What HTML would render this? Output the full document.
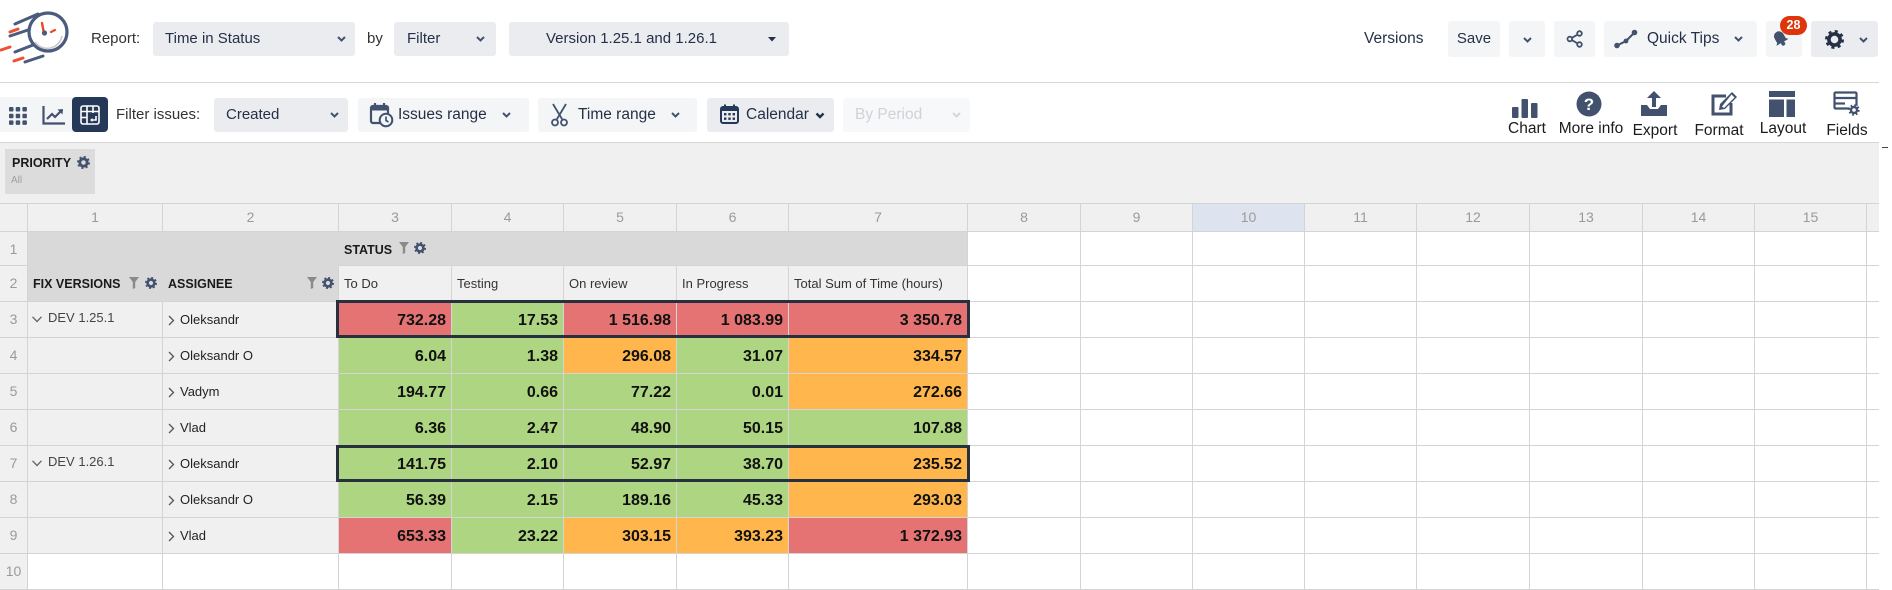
<!DOCTYPE html>
<html><head><meta charset="utf-8">
<style>
*{box-sizing:border-box;margin:0;padding:0}
body{width:1892px;height:590px;overflow:hidden;background:#fff;font-family:"Liberation Sans",Arial,sans-serif;position:relative}
.a{position:absolute}
.bx{position:absolute;border-radius:3px;background:#f4f5f7}
.dk{background:#ebecf0}
.t{position:absolute;font-size:15px;color:#253047;white-space:nowrap}
.lb{position:absolute;font-size:15.5px;color:#1b1b1b;white-space:nowrap;text-align:center;width:80px;height:20px;line-height:20px}
.g{position:absolute;left:0;top:203px;width:1879px;height:387px;display:grid;
grid-template-columns:27px 134px 175px 112px 111px 112px 111px 178px 112px 111px 111px 111px 112px 112px 111px 111px 12px;
grid-template-rows:27px 33px 35px repeat(8,35px);gap:1px;padding-top:1px;padding-bottom:1px;background:#d4d4d4}
.g>div{background:#fff;white-space:nowrap;overflow:hidden}
.h{background:#f0f0f0!important;color:#9a9a9a;font-size:14px;text-align:center;line-height:27px}
.hs{background:#dee4ef!important}
.n{background:#f0f0f0!important;color:#9a9a9a;font-size:14px;text-align:center;line-height:35px}
.l{background:#f0f0f0!important;font-size:13px;color:#222;line-height:35px;position:relative}
.s{background:#f0f0f0!important;font-size:13px;color:#333;line-height:35px;padding-left:5px}
.R,.G,.O{font-weight:bold;font-size:16px;color:#111;text-align:right;padding-right:5px;line-height:37px}
.R{background:#e57373!important}.G{background:#aed581!important}.O{background:#ffb74d!important}
.gr{background:#d9d9d9!important;position:relative}
</style></head><body>

<!-- logo -->
<svg class="a" style="left:0;top:0" width="72" height="70" viewBox="0 0 72 70">
<g stroke="#4a5b7d" stroke-width="3" stroke-linecap="round" fill="none">
<line x1="15" y1="24" x2="38" y2="14"/>
<line x1="10" y1="36" x2="31" y2="29"/>
<line x1="15" y1="52" x2="33" y2="45"/>
<line x1="25" y1="62" x2="43" y2="56"/>
</g>
<g stroke="#f0502f" stroke-width="3" stroke-linecap="round">
<line x1="1" y1="50" x2="10" y2="47"/>
<line x1="10" y1="32" x2="18" y2="29"/>
<line x1="14" y1="61" x2="23" y2="58"/>
</g>
<circle cx="48" cy="32" r="19" fill="#fff" stroke="#4a5b7d" stroke-width="3.2"/>
<path d="M35 42 A15 15 0 0 0 62 36" fill="none" stroke="#c8c8c8" stroke-width="1.6"/>
<line x1="42" y1="23" x2="43.5" y2="31" stroke="#e8492f" stroke-width="2.4" stroke-linecap="round"/>
<line x1="51" y1="32" x2="55" y2="30" stroke="#e8492f" stroke-width="2.2" stroke-linecap="round"/>
<circle cx="44.5" cy="33" r="2.6" fill="#4a5b7d"/>
</svg>

<!-- top row -->
<div class="t" style="left:91px;top:22px;line-height:34px;color:#333">Report:</div>
<div class="bx dk" style="left:153px;top:22px;width:202px;height:34px"></div>
<div class="t" style="left:165px;top:22px;line-height:34px">Time in Status</div>
<svg class="a" style="left:337px;top:36px" width="9" height="6"><polyline points="1,1 4.5,4.5 8,1" fill="none" stroke="#42526e" stroke-width="2"/></svg>
<div class="t" style="left:367px;top:22px;line-height:34px;color:#333">by</div>
<div class="bx dk" style="left:394px;top:22px;width:102px;height:34px"></div>
<div class="t" style="left:407px;top:22px;line-height:34px">Filter</div>
<svg class="a" style="left:476px;top:36px" width="9" height="6"><polyline points="1,1 4.5,4.5 8,1" fill="none" stroke="#42526e" stroke-width="2"/></svg>
<div class="bx dk" style="left:509px;top:22px;width:280px;height:34px"></div>
<div class="t" style="left:546px;top:22px;line-height:34px">Version 1.25.1 and 1.26.1</div>
<svg class="a" style="left:768px;top:37px" width="8" height="5"><polygon points="0,0 8,0 4,4.5" fill="#253047"/></svg>

<div class="t" style="left:1364px;top:22px;line-height:34px;font-size:15.5px">Versions</div>
<div class="bx" style="left:1448px;top:21px;width:52px;height:36px"></div>
<div class="t" style="left:1448px;top:21px;width:52px;text-align:center;line-height:36px">Save</div>
<div class="bx" style="left:1509px;top:21px;width:36px;height:36px"></div>
<svg class="a" style="left:1523px;top:37px" width="9" height="6"><polyline points="1,1 4.5,4.5 8,1" fill="none" stroke="#42526e" stroke-width="2"/></svg>
<div class="bx" style="left:1554px;top:21px;width:41px;height:36px"></div>
<svg class="a" style="left:1566px;top:30px" width="18" height="18" viewBox="0 0 18 18"><g fill="none" stroke="#42526e" stroke-width="1.8"><circle cx="13.5" cy="3.5" r="2.3"/><circle cx="3.8" cy="9" r="2.3"/><circle cx="13.5" cy="14.5" r="2.3"/><line x1="6" y1="7.8" x2="11.4" y2="4.7"/><line x1="6" y1="10.2" x2="11.4" y2="13.3"/></g></svg>
<div class="bx" style="left:1604px;top:21px;width:153px;height:36px"></div>
<svg class="a" style="left:1614px;top:29px" width="24" height="20" viewBox="0 0 24 20"><g fill="#42526e"><circle cx="3" cy="16.5" r="2.8"/><circle cx="12" cy="12" r="2.4"/><circle cx="20.5" cy="3.5" r="2.8"/></g><polyline points="3,16.5 12,12 20.5,3.5" fill="none" stroke="#42526e" stroke-width="2"/></svg>
<div class="t" style="left:1647px;top:21px;line-height:36px;font-size:15.5px">Quick Tips</div>
<svg class="a" style="left:1734px;top:36px" width="9" height="6"><polyline points="1,1 4.5,4.5 8,1" fill="none" stroke="#42526e" stroke-width="2"/></svg>
<div class="bx" style="left:1766px;top:21px;width:36px;height:36px"></div>
<svg class="a" style="left:1769px;top:28px" width="22" height="20" viewBox="0 0 22 20"><g transform="rotate(-30 11 10)"><path d="M4 15 L6 13 L6 8 A5 5 0 0 1 16 8 L16 13 L18 15 Z" fill="#42526e"/><circle cx="11" cy="16.5" r="2" fill="#42526e"/></g></svg>
<div class="a" style="left:1780px;top:16px;width:27px;height:19px;border-radius:10px;background:#de350b;color:#fff;font-weight:bold;font-size:12.5px;text-align:center;line-height:19px">28</div>
<div class="bx dk" style="left:1811px;top:21px;width:67px;height:36px"></div>
<svg class="a" style="left:1824px;top:29px" width="21" height="21" viewBox="0 0 21 21"><circle cx="10.5" cy="10.5" r="5.6" fill="none" stroke="#253047" stroke-width="3.6"/><circle cx="10.5" cy="10.5" r="8" fill="none" stroke="#253047" stroke-width="3" stroke-dasharray="3 3.28"/></svg>
<svg class="a" style="left:1859px;top:37px" width="9" height="6"><polyline points="1,1 4.5,4.5 8,1" fill="none" stroke="#42526e" stroke-width="2"/></svg>

<div class="a" style="left:0;top:82px;width:1879px;height:1px;background:#d6d6d6"></div>

<!-- second row -->
<div class="bx" style="left:0;top:97px;width:74px;height:35px;border-radius:0"></div>
<svg class="a" style="left:9px;top:107px" width="18" height="18" viewBox="0 0 18 18"><g fill="#42526e"><rect x="0" y="0" width="4.5" height="4.5" rx="1"/><rect x="6.7" y="0" width="4.5" height="4.5" rx="1"/><rect x="13.4" y="0" width="4.5" height="4.5" rx="1"/><rect x="0" y="6.7" width="4.5" height="4.5" rx="1"/><rect x="6.7" y="6.7" width="4.5" height="4.5" rx="1"/><rect x="13.4" y="6.7" width="4.5" height="4.5" rx="1"/><rect x="0" y="13.4" width="4.5" height="4.5" rx="1"/><rect x="6.7" y="13.4" width="4.5" height="4.5" rx="1"/><rect x="13.4" y="13.4" width="4.5" height="4.5" rx="1"/></g></svg>
<svg class="a" style="left:42px;top:106px" width="23" height="19" viewBox="0 0 23 19"><polyline points="1.5,0 1.5,17.5 23,17.5" fill="none" stroke="#42526e" stroke-width="2.2"/><polyline points="5,13 10,8 13,11 19,5" fill="none" stroke="#42526e" stroke-width="2.2"/><polygon points="15.5,3.5 21,3 20.5,8.5" fill="#42526e"/></svg>
<div class="a" style="left:72px;top:97px;width:36px;height:35px;border-radius:4px;background:#253858"></div>
<svg class="a" style="left:80px;top:105px" width="20" height="20" viewBox="0 0 20 20"><g fill="none" stroke="#fff" stroke-width="1.6"><rect x="1" y="1" width="18" height="18" rx="2"/><line x1="1" y1="6.5" x2="19" y2="6.5"/><line x1="7" y1="1" x2="7" y2="19"/><line x1="13" y1="1" x2="13" y2="8"/><line x1="1" y1="12.5" x2="7" y2="12.5"/><path d="M16 11 L16 15 L11 15"/></g><polygon points="10,15 12.5,13 12.5,17" fill="#fff"/></svg>
<div class="t" style="left:116px;top:97px;line-height:35px;color:#333">Filter issues:</div>
<div class="bx dk" style="left:214px;top:98px;width:134px;height:34px"></div>
<div class="t" style="left:226px;top:98px;line-height:34px">Created</div>
<svg class="a" style="left:330px;top:112px" width="9" height="6"><polyline points="1,1 4.5,4.5 8,1" fill="none" stroke="#42526e" stroke-width="2"/></svg>
<div class="bx" style="left:358px;top:98px;width:171px;height:34px"></div>
<svg class="a" style="left:369px;top:102px" width="25" height="26" viewBox="0 0 25 26"><rect x="2" y="4" width="17" height="17" rx="2" fill="none" stroke="#42526e" stroke-width="2.2"/><rect x="2" y="4" width="17" height="4.5" fill="#42526e"/><line x1="6" y1="1" x2="6" y2="5" stroke="#42526e" stroke-width="2.2"/><line x1="15" y1="1" x2="15" y2="5" stroke="#42526e" stroke-width="2.2"/><circle cx="17" cy="18" r="6.3" fill="#f4f5f7" stroke="#42526e" stroke-width="2"/><polyline points="17,14.5 17,18.5 19.5,20" fill="none" stroke="#42526e" stroke-width="1.7"/></svg>
<div class="t" style="left:398px;top:98px;line-height:34px;font-size:15.5px">Issues range</div>
<svg class="a" style="left:502px;top:112px" width="9" height="6"><polyline points="1,1 4.5,4.5 8,1" fill="none" stroke="#42526e" stroke-width="2"/></svg>
<div class="bx" style="left:538px;top:98px;width:159px;height:34px"></div>
<svg class="a" style="left:551px;top:103px" width="17" height="24" viewBox="0 0 17 24"><g fill="none" stroke="#42526e" stroke-width="1.8"><circle cx="4" cy="19.5" r="3"/><circle cx="13" cy="19.5" r="3"/><line x1="2" y1="1" x2="11.5" y2="16.8"/><line x1="15" y1="1" x2="5.5" y2="16.8"/></g></svg>
<div class="t" style="left:578px;top:98px;line-height:34px;font-size:15.5px">Time range</div>
<svg class="a" style="left:671px;top:112px" width="9" height="6"><polyline points="1,1 4.5,4.5 8,1" fill="none" stroke="#42526e" stroke-width="2"/></svg>
<div class="bx dk" style="left:707px;top:98px;width:127px;height:34px"></div>
<svg class="a" style="left:720px;top:104px" width="19" height="20" viewBox="0 0 19 20"><rect x="1" y="3" width="17" height="16" rx="2" fill="none" stroke="#253858" stroke-width="2"/><rect x="1" y="3" width="17" height="4" fill="#253858"/><line x1="5" y1="0.5" x2="5" y2="4" stroke="#253858" stroke-width="2"/><line x1="14" y1="0.5" x2="14" y2="4" stroke="#253858" stroke-width="2"/><g fill="#253858"><rect x="4" y="9" width="2.4" height="2.4"/><rect x="8.3" y="9" width="2.4" height="2.4"/><rect x="12.6" y="9" width="2.4" height="2.4"/><rect x="4" y="13.5" width="2.4" height="2.4"/><rect x="8.3" y="13.5" width="2.4" height="2.4"/><rect x="12.6" y="13.5" width="2.4" height="2.4"/></g></svg>
<div class="t" style="left:746px;top:98px;line-height:34px;font-size:15.5px">Calendar</div>
<svg class="a" style="left:815px;top:112px" width="10" height="7"><polyline points="1.5,1.5 5,5 8.5,1.5" fill="none" stroke="#253047" stroke-width="2.4"/></svg>
<div class="bx" style="left:843px;top:98px;width:127px;height:34px;background:#f7f8f9"></div>
<div class="t" style="left:855px;top:98px;line-height:34px;color:#cfd2d8;font-size:15.5px">By Period</div>
<svg class="a" style="left:952px;top:112px" width="9" height="6"><polyline points="1,1 4.5,4.5 8,1" fill="none" stroke="#d3d6dc" stroke-width="2"/></svg>

<!-- right icons -->
<svg class="a" style="left:1512px;top:99px" width="26" height="19" viewBox="0 0 26 19"><g fill="#42526e"><rect x="0" y="8" width="6.5" height="11" rx="1"/><rect x="9.5" y="0" width="6.5" height="19" rx="1"/><rect x="19" y="4" width="6.5" height="15" rx="1"/></g></svg>
<div class="lb" style="left:1487px;top:119px">Chart</div>
<svg class="a" style="left:1576px;top:91px" width="26" height="26" viewBox="0 0 26 26"><circle cx="13" cy="13" r="12.5" fill="#42526e"/><text x="13" y="19" font-family="Liberation Sans" font-weight="bold" font-size="17" fill="#fff" text-anchor="middle">?</text></svg>
<div class="lb" style="left:1551px;top:119px">More info</div>
<svg class="a" style="left:1640px;top:91px" width="28" height="26" viewBox="0 0 28 26"><path d="M1 14 L7 14 L10 18 L18 18 L21 14 L27 14 L27 25 L1 25 Z" fill="#42526e"/><rect x="12" y="5" width="4" height="11" fill="#42526e"/><polygon points="7,7 14,0 21,7" fill="#42526e"/></svg>
<div class="lb" style="left:1615px;top:121px">Export</div>
<svg class="a" style="left:1710px;top:91px" width="28" height="26" viewBox="0 0 28 26"><path d="M16 5 L3 5 L3 23 L21 23 L21 12" fill="none" stroke="#42526e" stroke-width="3"/><polygon points="22,1 27,6 15,18 9,19 10,13" fill="#42526e"/><polygon points="21.5,3.5 24.5,6.5 14,17 12,15.5" fill="#fff"/></svg>
<div class="lb" style="left:1679px;top:121px">Format</div>
<svg class="a" style="left:1769px;top:91px" width="26" height="26" viewBox="0 0 26 26"><g fill="#42526e"><rect x="0" y="0" width="26" height="6"/><rect x="0" y="8.5" width="15" height="17.5"/><rect x="17.5" y="8.5" width="8.5" height="17.5"/></g></svg>
<div class="lb" style="left:1743px;top:119px">Layout</div>
<svg class="a" style="left:1833px;top:91px" width="29" height="27" viewBox="0 0 29 27"><g fill="none" stroke="#42526e" stroke-width="2.2"><rect x="1.5" y="1.5" width="22" height="16" rx="1"/><line x1="1.5" y1="7" x2="23.5" y2="7"/><line x1="1.5" y1="12.5" x2="12" y2="12.5"/></g><circle cx="21" cy="19" r="5" fill="#fff"/><circle cx="21" cy="19" r="3" fill="none" stroke="#42526e" stroke-width="2.4"/><circle cx="21" cy="19" r="4.7" fill="none" stroke="#42526e" stroke-width="2" stroke-dasharray="1.8 1.9"/></svg>
<div class="lb" style="left:1807px;top:121px">Fields</div>

<!-- gray band -->
<div class="a" style="left:0;top:142px;width:1879px;height:1px;background:#d6d6d6"></div>
<div class="a" style="left:0;top:143px;width:1879px;height:60px;background:#f0f0f0"></div>
<div class="a" style="left:1882px;top:147px;width:6px;height:1px;background:#444"></div>
<div class="a" style="left:5px;top:149px;width:90px;height:45px;background:#dcdcdc"></div>
<div class="a" style="left:12px;top:155px;font-weight:bold;font-size:12.5px;color:#1a1a1a;line-height:16px">PRIORITY</div>
<svg class="a" style="left:77px;top:156px" width="13" height="13" viewBox="0 0 12 12"><circle cx="6" cy="6" r="3.4" fill="none" stroke="#42526e" stroke-width="2.6"/><circle cx="6" cy="6" r="5" fill="none" stroke="#42526e" stroke-width="2" stroke-dasharray="1.9 2.03"/></svg>
<div class="a" style="left:11px;top:175px;font-size:10px;color:#a0a0a0;line-height:12px">All</div>

<!-- grid -->
<div class="g">
<!-- header row -->
<div class="h"></div><div class="h">1</div><div class="h">2</div><div class="h">3</div><div class="h">4</div><div class="h">5</div><div class="h">6</div><div class="h">7</div><div class="h">8</div><div class="h">9</div><div class="h hs">10</div><div class="h">11</div><div class="h">12</div><div class="h">13</div><div class="h">14</div><div class="h">15</div><div class="h"></div>
<!-- merged header blocks -->
<div class="gr" style="grid-row:2/4;grid-column:2/4"></div>
<div class="gr" style="grid-row:2;grid-column:4/9"></div>
<!-- row 1 -->
<div class="n" style="grid-row:2;grid-column:1">1</div>
<div style="grid-row:2;grid-column:9"></div><div style="grid-row:2;grid-column:10"></div><div style="grid-row:2;grid-column:11"></div><div style="grid-row:2;grid-column:12"></div><div style="grid-row:2;grid-column:13"></div><div style="grid-row:2;grid-column:14"></div><div style="grid-row:2;grid-column:15"></div><div style="grid-row:2;grid-column:16"></div><div style="grid-row:2;grid-column:17"></div>
<!-- row 2 -->
<div class="n" style="grid-row:3;grid-column:1">2</div>
<div class="s" style="grid-row:3;grid-column:4">To Do</div><div class="s" style="grid-row:3;grid-column:5">Testing</div><div class="s" style="grid-row:3;grid-column:6">On review</div><div class="s" style="grid-row:3;grid-column:7">In Progress</div><div class="s" style="grid-row:3;grid-column:8">Total Sum of Time (hours)</div>
<div style="grid-row:3;grid-column:9"></div><div style="grid-row:3;grid-column:10"></div><div style="grid-row:3;grid-column:11"></div><div style="grid-row:3;grid-column:12"></div><div style="grid-row:3;grid-column:13"></div><div style="grid-row:3;grid-column:14"></div><div style="grid-row:3;grid-column:15"></div><div style="grid-row:3;grid-column:16"></div><div style="grid-row:3;grid-column:17"></div>
<!-- row 3 -->
<div class="n" style="grid-row:4;grid-column:1">3</div>
<div class="l"><svg class="a" style="left:4px;top:14px" width="10" height="7"><polyline points="0.5,0.8 5,5.5 9.5,0.8" fill="none" stroke="#666" stroke-width="1.3"/></svg><span style="position:absolute;left:20px;top:-2px;color:#444">DEV 1.25.1</span></div>
<div class="l"><svg class="a" style="left:5px;top:13px" width="7" height="11"><polyline points="1,1 5.5,5.5 1,10" fill="none" stroke="#555" stroke-width="1.3"/></svg><span style="position:absolute;left:17px">Oleksandr</span></div>
<div class="R">732.28</div><div class="G">17.53</div><div class="R">1 516.98</div><div class="R">1 083.99</div><div class="R">3 350.78</div>
<div></div><div></div><div></div><div></div><div></div><div></div><div></div><div></div><div></div>
<!-- row 4 -->
<div class="n">4</div>
<div class="l"></div>
<div class="l"><svg class="a" style="left:5px;top:13px" width="7" height="11"><polyline points="1,1 5.5,5.5 1,10" fill="none" stroke="#555" stroke-width="1.3"/></svg><span style="position:absolute;left:17px">Oleksandr O</span></div>
<div class="G">6.04</div><div class="G">1.38</div><div class="O">296.08</div><div class="G">31.07</div><div class="O">334.57</div>
<div></div><div></div><div></div><div></div><div></div><div></div><div></div><div></div><div></div>
<!-- row 5 -->
<div class="n">5</div>
<div class="l"></div>
<div class="l"><svg class="a" style="left:5px;top:13px" width="7" height="11"><polyline points="1,1 5.5,5.5 1,10" fill="none" stroke="#555" stroke-width="1.3"/></svg><span style="position:absolute;left:17px">Vadym</span></div>
<div class="G">194.77</div><div class="G">0.66</div><div class="G">77.22</div><div class="G">0.01</div><div class="O">272.66</div>
<div></div><div></div><div></div><div></div><div></div><div></div><div></div><div></div><div></div>
<!-- row 6 -->
<div class="n">6</div>
<div class="l"></div>
<div class="l"><svg class="a" style="left:5px;top:13px" width="7" height="11"><polyline points="1,1 5.5,5.5 1,10" fill="none" stroke="#555" stroke-width="1.3"/></svg><span style="position:absolute;left:17px">Vlad</span></div>
<div class="G">6.36</div><div class="G">2.47</div><div class="G">48.90</div><div class="G">50.15</div><div class="G">107.88</div>
<div></div><div></div><div></div><div></div><div></div><div></div><div></div><div></div><div></div>
<!-- row 7 -->
<div class="n">7</div>
<div class="l"><svg class="a" style="left:4px;top:14px" width="10" height="7"><polyline points="0.5,0.8 5,5.5 9.5,0.8" fill="none" stroke="#666" stroke-width="1.3"/></svg><span style="position:absolute;left:20px;top:-2px;color:#444">DEV 1.26.1</span></div>
<div class="l"><svg class="a" style="left:5px;top:13px" width="7" height="11"><polyline points="1,1 5.5,5.5 1,10" fill="none" stroke="#555" stroke-width="1.3"/></svg><span style="position:absolute;left:17px">Oleksandr</span></div>
<div class="G">141.75</div><div class="G">2.10</div><div class="G">52.97</div><div class="G">38.70</div><div class="O">235.52</div>
<div></div><div></div><div></div><div></div><div></div><div></div><div></div><div></div><div></div>
<!-- row 8 -->
<div class="n">8</div>
<div class="l"></div>
<div class="l"><svg class="a" style="left:5px;top:13px" width="7" height="11"><polyline points="1,1 5.5,5.5 1,10" fill="none" stroke="#555" stroke-width="1.3"/></svg><span style="position:absolute;left:17px">Oleksandr O</span></div>
<div class="G">56.39</div><div class="G">2.15</div><div class="G">189.16</div><div class="G">45.33</div><div class="O">293.03</div>
<div></div><div></div><div></div><div></div><div></div><div></div><div></div><div></div><div></div>
<!-- row 9 -->
<div class="n">9</div>
<div class="l"></div>
<div class="l"><svg class="a" style="left:5px;top:13px" width="7" height="11"><polyline points="1,1 5.5,5.5 1,10" fill="none" stroke="#555" stroke-width="1.3"/></svg><span style="position:absolute;left:17px">Vlad</span></div>
<div class="R">653.33</div><div class="G">23.22</div><div class="O">303.15</div><div class="O">393.23</div><div class="R">1 372.93</div>
<div></div><div></div><div></div><div></div><div></div><div></div><div></div><div></div><div></div>
<!-- row 10 -->
<div class="n">10</div>
<div></div><div></div><div></div><div></div><div></div><div></div><div></div><div></div><div></div><div></div><div></div><div></div><div></div><div></div><div></div><div></div>
</div>

<!-- header overlays -->
<div class="a" style="left:337px;top:232px;width:3px;height:33px;background:#d9d9d9"></div>
<div class="a" style="left:33px;top:266px;height:35px;line-height:37px;font-weight:bold;font-size:12.5px;color:#1a1a1a">FIX VERSIONS</div>
<svg class="a" style="left:129px;top:277px" width="10" height="12" viewBox="0 0 10 12"><polygon points="0,0 10,0 6.2,5 6.2,11 3.8,12 3.8,5" fill="#8a8a8a"/></svg>
<svg class="a" style="left:145px;top:277px" width="12" height="12" viewBox="0 0 12 12"><circle cx="6" cy="6" r="3.4" fill="none" stroke="#42526e" stroke-width="2.6"/><circle cx="6" cy="6" r="5" fill="none" stroke="#42526e" stroke-width="2" stroke-dasharray="1.9 2.03"/></svg>
<div class="a" style="left:168px;top:266px;height:35px;line-height:37px;font-weight:bold;font-size:12.5px;color:#1a1a1a">ASSIGNEE</div>
<svg class="a" style="left:307px;top:277px" width="10" height="12" viewBox="0 0 10 12"><polygon points="0,0 10,0 6.2,5 6.2,11 3.8,12 3.8,5" fill="#8a8a8a"/></svg>
<svg class="a" style="left:322px;top:277px" width="12" height="12" viewBox="0 0 12 12"><circle cx="6" cy="6" r="3.4" fill="none" stroke="#42526e" stroke-width="2.6"/><circle cx="6" cy="6" r="5" fill="none" stroke="#42526e" stroke-width="2" stroke-dasharray="1.9 2.03"/></svg>
<div class="a" style="left:344px;top:232px;height:33px;line-height:36px;font-weight:bold;font-size:12.5px;color:#1a1a1a">STATUS</div>
<svg class="a" style="left:399px;top:242px" width="10" height="12" viewBox="0 0 10 12"><polygon points="0,0 10,0 6.2,5 6.2,11 3.8,12 3.8,5" fill="#8a8a8a"/></svg>
<svg class="a" style="left:414px;top:242px" width="12" height="12" viewBox="0 0 12 12"><circle cx="6" cy="6" r="3.4" fill="none" stroke="#42526e" stroke-width="2.6"/><circle cx="6" cy="6" r="5" fill="none" stroke="#42526e" stroke-width="2" stroke-dasharray="1.9 2.03"/></svg>

<!-- selection boxes -->
<div class="a" style="left:336px;top:300px;width:634px;height:38px;border:3.5px solid #27303f"></div>
<div class="a" style="left:336px;top:445px;width:634px;height:37px;border:3.5px solid #27303f"></div>

</body></html>
